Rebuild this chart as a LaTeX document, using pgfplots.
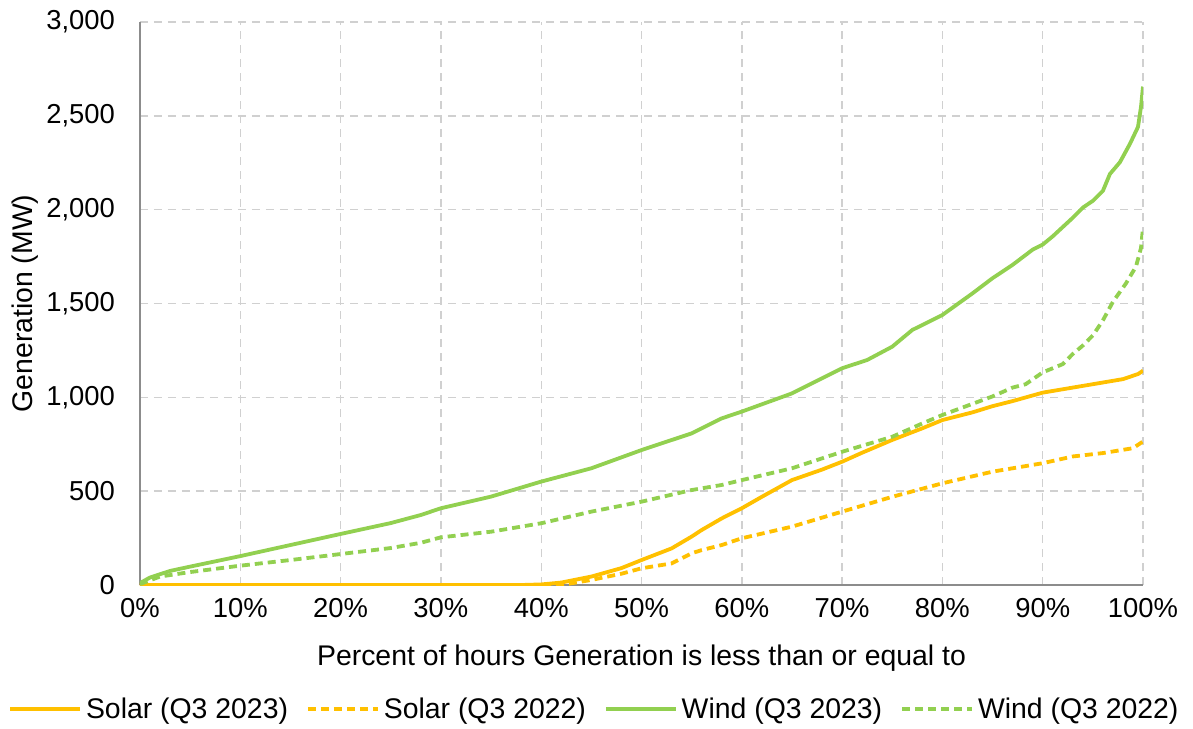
\documentclass[border=0pt]{standalone}
\usepackage{pgfplots}
\pgfplotsset{compat=1.18}
\usepackage{fontspec}
\setmainfont{Liberation Sans}
\definecolor{solar}{HTML}{FFC000}
\definecolor{wind}{HTML}{92D050}
\definecolor{gridc}{HTML}{D0D0D0}
\definecolor{axc}{HTML}{8C8C8C}
\begin{document}
\begin{tikzpicture}
\begin{axis}[
  scale only axis, width=501.5pt, height=281.5pt,
  xmin=0, xmax=100, ymin=0, ymax=3000,
  axis x line*=bottom, axis y line*=left,
  axis line style={axc, line width=1pt},
  xtick={0,10,...,100}, ytick={0,500,...,3000},
  major tick length=0pt,
  grid=major, major grid style={gridc, line width=0.7pt, dash pattern=on 4pt off 3pt},
  xticklabel={\pgfmathprintnumber{\tick}\%},
  /pgf/number format/assume math mode=true,
  /pgf/number format/1000 sep={,},
  ticklabel style={font=\fontsize{13.7}{16}\selectfont},
  yticklabel style={xshift=-9pt},
  xticklabel style={yshift=-3pt},
  xlabel={Percent of hours Generation is less than or equal to},
  ylabel={Generation (MW)},
  label style={font=\fontsize{14.2}{17}\selectfont},
  xlabel style={at={(axis description cs:0.5,-0.13)}, anchor=center},
  ylabel style={at={(axis description cs:-0.1147,0.5)}, anchor=center},
  legend columns=4,
  legend style={at={(0.454,-0.185)}, anchor=north, draw=none, font=\fontsize{14.2}{17}\selectfont,
    /tikz/every even column/.append style={column sep=7pt}},
  legend image code/.code={\draw[#1] plot coordinates {(0pt,0pt) (35pt,0pt)};},
  every axis plot/.append style={line width=1.9pt, line join=round},
]
\addplot[solar] coordinates {
(0,0) (38,0) (40,3) (42,13) (45,45) (48,90) (50,133) (53,195) (55,258) (56,293) (58,355)
(60,409) (62,470) (65,559) (68,615) (70,657) (72,705) (75,773) (78,835) (80,879)
(83,920) (85,953) (87,980) (90,1025) (93,1052) (95,1070) (98,1097) (99.5,1124) (100,1142)};
\addlegendentry{Solar (Q3 2023)}
\addplot[solar, dash pattern=on 4pt off 2.5pt] coordinates {
(0,0) (42,0) (45,27) (48,60) (50,89) (53,115) (55,169) (56,186) (58,213) (60,249)
(65,311) (70,391) (75,470) (80,542) (85,604) (87,622) (90,649) (93,685) (96,703) (99,729) (100,765)};
\addlegendentry{Solar (Q3 2022)}
\addplot[wind] coordinates {
(0,10) (1,40) (3,75) (5,98) (10,154) (15,213) (20,272) (25,330) (28,373) (30,409)
(35,471) (40,551) (45,622) (50,719) (55,808) (58,888) (60,924) (65,1021) (70,1155)
(72.5,1199) (75,1270) (77,1359) (80,1439) (83,1554) (85,1635) (87,1706) (89,1787)
(90,1814) (91,1858) (93,1957) (94,2011) (95,2047) (96,2100) (96.7,2190) (97.7,2253)
(98.7,2351) (99.5,2441) (99.8,2548) (100,2656)};
\addlegendentry{Wind (Q3 2023)}
\addplot[wind, dash pattern=on 4pt off 2.5pt] coordinates {
(0,5) (2,45) (5,69) (10,103) (15,133) (20,165) (25,197) (28,225) (30,254) (35,284)
(40,329) (45,391) (50,444) (55,506) (58,533) (60,559) (65,622) (70,710) (75,790)
(78,861) (80,906) (85,1005) (87,1052) (88.3,1070) (90,1133) (92,1177) (93,1231)
(94,1276) (95,1330) (96,1410) (97,1509) (98.3,1607) (99.3,1697) (99.8,1796) (100,1903)};
\addlegendentry{Wind (Q3 2022)}
\coordinate (bl) at (rel axis cs:0,0);
\coordinate (tr) at (rel axis cs:1,1);
\end{axis}
\pgfresetboundingbox
\path[use as bounding box] ([xshift=-70pt,yshift=-71.5pt]bl) rectangle ([xshift=25pt,yshift=11pt]tr);
\end{tikzpicture}
\end{document}
